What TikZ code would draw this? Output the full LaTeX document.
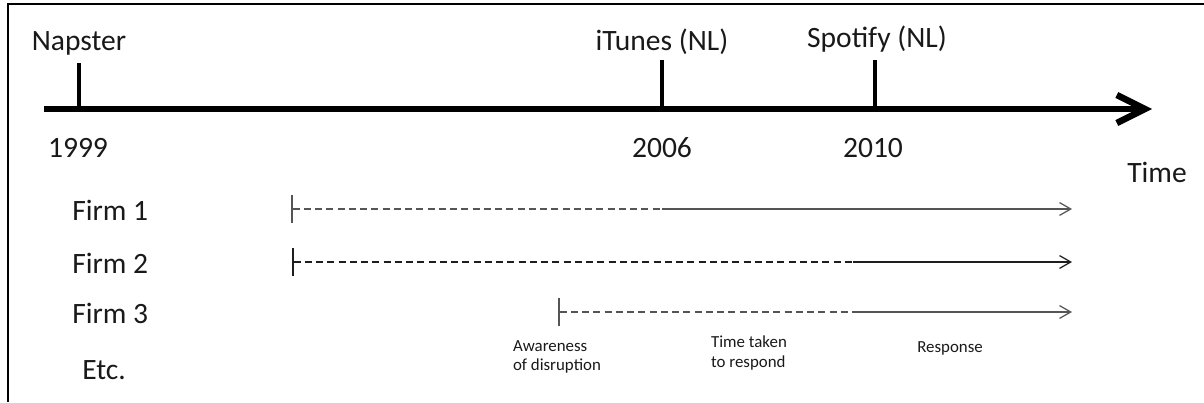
\documentclass[tikz,border=0pt]{standalone}
\usepackage{fontspec}
\setmainfont{Carlito}
\usetikzlibrary{positioning,arrows.meta}
\definecolor{tInk}{RGB}{25,25,25}
\definecolor{tGrey}{RGB}{85,85,85}
\definecolor{tDark}{RGB}{30,30,30}
\tikzset{
  lbl/.style={font=\fontsize{21}{25}\selectfont, text=tInk, inner sep=0pt},
  yr/.style={lbl},
  firm/.style={lbl, anchor=west},
  note/.style={font=\fontsize{12}{14}\selectfont, text=tInk, align=left, inner sep=0pt},
  axis/.style={-{Straight Barb[length=7mm,width=7mm]}, draw=black, line width=4.6pt},
  tick/.style={draw=black, line width=2.2pt},
  wait/.style={{Bar[width=7mm, line width'=1.5pt]}-, draw=tGrey, line width=0.9pt,
               dash pattern=on 5pt off 3pt},
  resp/.style={-{Straight Barb[length=2.8mm,width=3.2mm]}, draw=tGrey, line width=0.9pt},
  frame/.style={draw=black, line width=1.4pt},
}

\begin{document}
\begin{tikzpicture}[x=0.025cm, y=-0.025cm]
  \useasboundingbox (0,0) rectangle (1204,402);

  %====================== FRAME ======================
  \draw[frame] (1204,4) -- (8,4) -- (8,402);

  %====================== TIME AXIS ======================
  \coordinate (start) at (44,109);
  \coordinate (end) at (1152,109);
  \draw[axis] (start) -- (end);

  \coordinate (napB) at (79,109);
  \coordinate (napT) at (79,63);
  \coordinate (ituB) at (662,109);
  \coordinate (ituT) at (662,60);
  \coordinate (spoB) at (875,109);
  \coordinate (spoT) at (875,60);
  \draw[tick] (napB) -- (napT);
  \draw[tick] (ituB) -- (ituT);
  \draw[tick] (spoB) -- (spoT);

  \node[lbl] (napster) at (79,43) {Napster};
  \node[lbl] (itunes) at (662,42) {iTunes (NL)};
  \node[lbl] (spotify) at (877,39) {Spotify (NL)};

  \node[yr] (y1999) at (78,148) {1999};
  \node[yr] (y2006) at (662,148) {2006};
  \node[yr] (y2010) at (873,148) {2010};
  \node[lbl] (time) at (1157,172) {Time};

  %====================== FIRMS ======================
  \node[firm] (firm1) at (72,210) {Firm 1};
  \node[firm] (firm2) at (72,263) {Firm 2};
  \node[firm] (firm3) at (72,313) {Firm 3};
  \node[firm] (etc) at (82,370) {Etc.};

  % dashed = time taken to respond, solid = response
  \coordinate (f1a) at (291,209);
  \coordinate (f1b) at (662,209);
  \coordinate (f1c) at (1072,209);
  \draw[wait] (f1a) -- (f1b);
  \draw[resp] (f1b) -- (f1c);

  \coordinate (f2a) at (292,262);
  \coordinate (f2b) at (853,262);
  \coordinate (f2c) at (1072,262);
  \draw[wait, draw=tDark] (f2a) -- (f2b);
  \draw[resp, draw=tDark] (f2b) -- (f2c);

  \coordinate (f3a) at (558,312);
  \coordinate (f3b) at (853,312);
  \coordinate (f3c) at (1072,312);
  \draw[wait] (f3a) -- (f3b);
  \draw[resp] (f3b) -- (f3c);

  %====================== NOTES ======================
  \node[note] (aware) at (557,357) {Awareness\\of disruption};
  \node[note] (taken) at (749,353) {Time taken\\to respond};
  \node[note] (response) at (950,348) {Response};

\end{tikzpicture}
\end{document}
